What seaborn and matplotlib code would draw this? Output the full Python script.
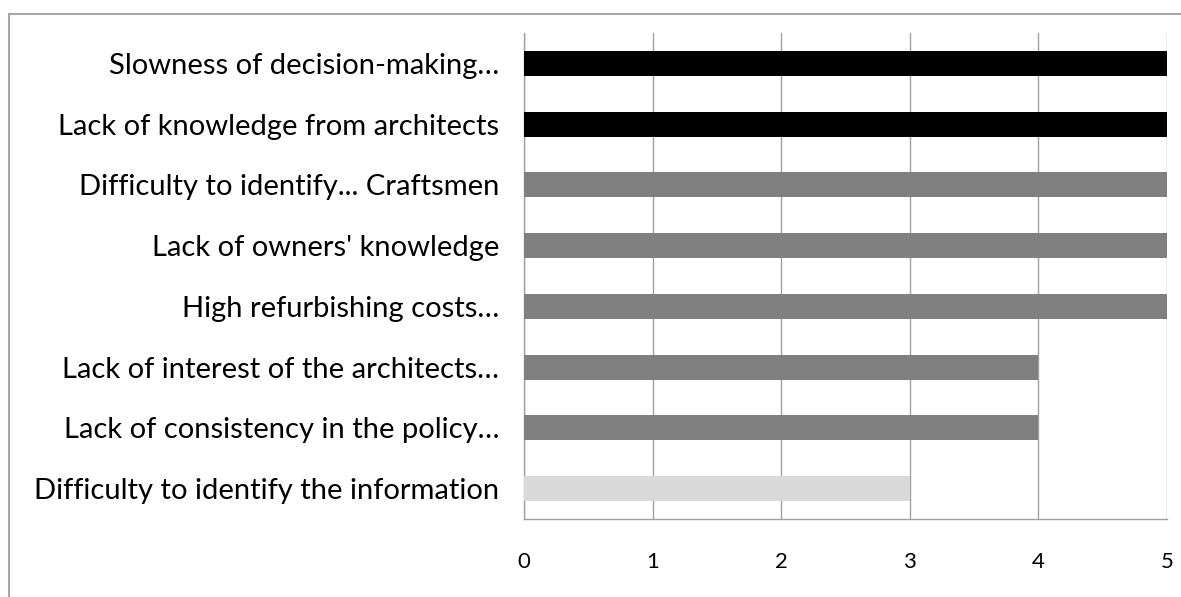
import matplotlib
matplotlib.use("Agg")
import matplotlib.pyplot as plt
import seaborn as sns
import pandas as pd
from matplotlib.patches import Rectangle

categories = [
    "Slowness of decision-making…",
    "Lack of knowledge from architects",
    "Difficulty to identify... Craftsmen",
    "Lack of owners' knowledge",
    "High refurbishing costs…",
    "Lack of interest of the architects…",
    "Lack of consistency in the policy…",
    "Difficulty to identify the information",
]
values = [5, 5, 5, 5, 5, 4, 4, 3]
bar_colors = ["#000000", "#000000", "#808080", "#808080", "#808080",
              "#808080", "#808080", "#d9d9d9"]
x_ticks = [0, 1, 2, 3, 4, 5]

sns.set_theme(style="white")
plt.rcParams["font.family"] = ["Lato", "DejaVu Sans"]

df = pd.DataFrame({"category": categories, "value": values})

fig = plt.figure(figsize=(11.81, 5.97), dpi=100)
ax = fig.add_axes([524 / 1181, 1 - 519 / 597, (1167 - 524) / 1181, (519 - 33) / 597])

sns.barplot(data=df, x="value", y="category", hue="category",
            palette=bar_colors, orient="h", width=0.41, legend=False,
            saturation=1, linewidth=0, ax=ax, zorder=3)

ax.set_xlim(0, 5)
ax.set_ylim(7.5, -0.5)
ax.set_xticks(x_ticks)
ax.set_xticklabels([str(t) for t in x_ticks])
ax.set_xlabel("")
ax.set_ylabel("")
ax.grid(axis="x", color="#a0a0a0", linewidth=1.0, zorder=0)
ax.grid(axis="y", visible=False)
for side in ["top", "right"]:
    ax.spines[side].set_visible(False)
for side in ["left", "bottom"]:
    ax.spines[side].set_color("#a0a0a0")
    ax.spines[side].set_linewidth(1.0)
ax.tick_params(axis="both", length=0, colors="#000000")
ax.tick_params(axis="x", pad=24, labelsize=16)
ax.tick_params(axis="y", pad=18, labelsize=21)

# chart-area border
fig.patches.append(Rectangle((9.5 / 1181, -0.1), 1.2, 1 - 13.5 / 597 + 0.1,
                             transform=fig.transFigure, fill=False,
                             edgecolor="#a6a6a6", linewidth=1.5))

fig.savefig("out.png", dpi=100)
